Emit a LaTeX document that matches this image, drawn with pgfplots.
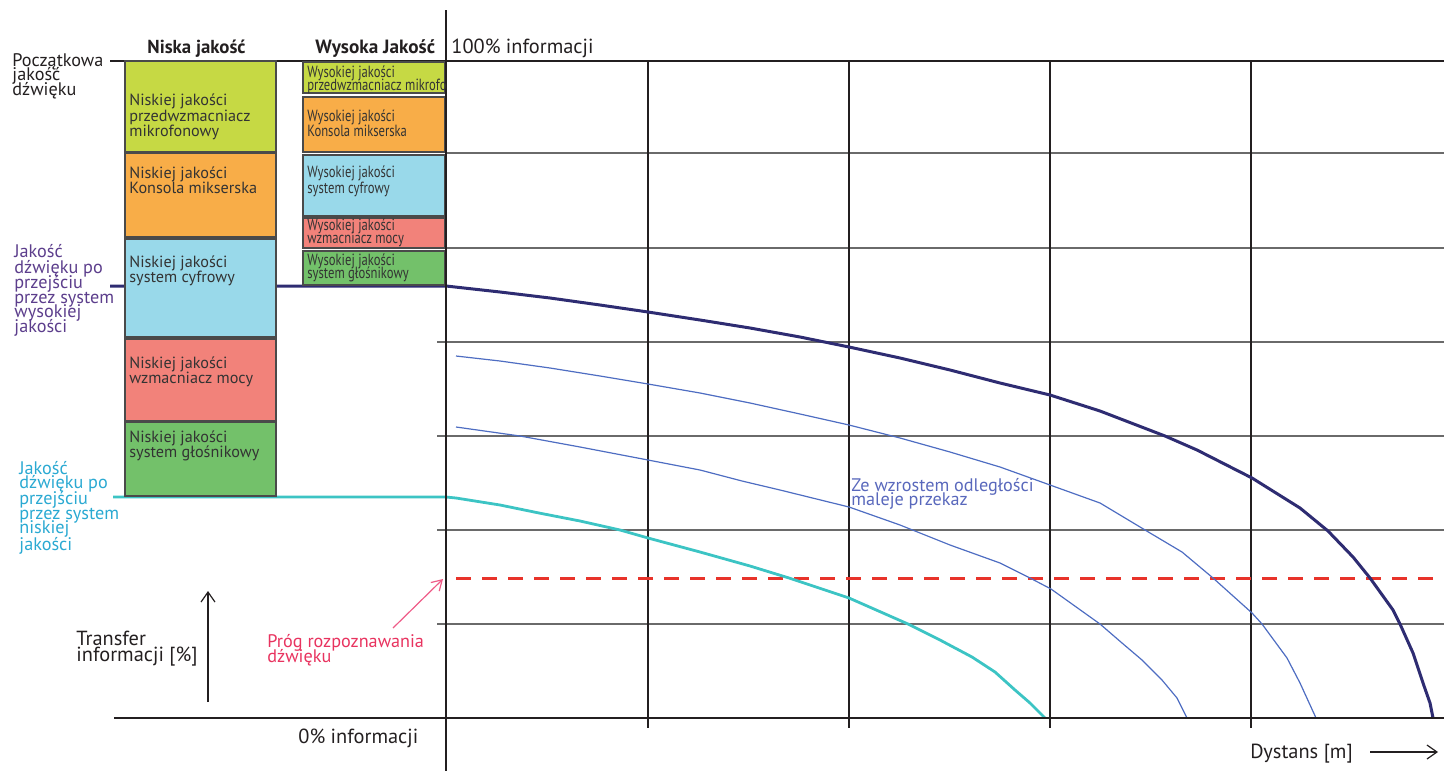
\documentclass[border=0pt]{standalone}
\usepackage{pgfplots}
\pgfplotsset{compat=1.18}
\usetikzlibrary{arrows.meta}
\usepackage{fontspec}
\setmainfont{PT Sans}
\newfontfamily\cond[FakeStretch=0.78]{PT Sans}
\definecolor{cyg}{HTML}{C6D944}
\definecolor{cor}{HTML}{F8AD48}
\definecolor{cbl}{HTML}{99D9EA}
\definecolor{csa}{HTML}{F2827A}
\definecolor{cgr}{HTML}{73C16A}
\definecolor{navy}{HTML}{2E2C72}
\definecolor{thinb}{HTML}{4E6DC2}
\definecolor{teal2}{HTML}{3CC4C4}
\definecolor{tealtxt}{HTML}{2AA9D2}
\definecolor{purp}{HTML}{5C3E8C}
\definecolor{bluetxt}{HTML}{5968BC}
\definecolor{pinkt}{HTML}{E8335F}
\definecolor{pinka}{HTML}{EE5C88}
\definecolor{redd}{HTML}{E8332A}
\definecolor{txt}{HTML}{231F20}
\definecolor{boxtxt}{HTML}{333333}
\definecolor{gridh}{HTML}{6A6A6A}
\definecolor{boxb}{HTML}{4A4A4A}
\newcommand\fs{\fontsize{9.1pt}{8pt}\selectfont}
\newcommand\fl{\fontsize{10.2pt}{9pt}\selectfont}
\newcommand\fb{\fontsize{8.1pt}{7pt}\selectfont}
\newcommand\fsc{\cond\fontsize{8.1pt}{7pt}\selectfont}
\newcommand\TX[4]{\node[anchor=base west,inner sep=0pt,text=#3,font=\fs] at (axis cs:#1,#2) {#4};}
\newcommand\LX[4]{\node[anchor=base west,inner sep=0pt,text=#3,font=\fl] at (axis cs:#1,#2) {#4};}
\newcommand\BX[3]{\node[anchor=base west,inner sep=0pt,text=boxtxt,font=\fb] at (axis cs:#1,#2) {#3};}
\newcommand\CX[3]{\node[anchor=base west,inner sep=0pt,text=boxtxt,font=\fsc] at (axis cs:#1,#2) {#3};}
\begin{document}
\begin{tikzpicture}
\begin{axis}[at={(0,0)},anchor=south west,width=722pt,height=385.5pt,scale only axis,
  xmin=0,xmax=1444,ymin=0,ymax=771,y dir=reverse,axis lines=none,clip=false]
% grid
\draw[gridh,line width=0.65pt] (axis cs:446,153) -- (axis cs:1444,153);
\draw[gridh,line width=0.65pt] (axis cs:446,248) -- (axis cs:1444,248);
\draw[gridh,line width=0.65pt] (axis cs:437,342) -- (axis cs:1444,342);
\draw[gridh,line width=0.65pt] (axis cs:437,436) -- (axis cs:1444,436);
\draw[gridh,line width=0.65pt] (axis cs:437,530) -- (axis cs:1444,530);
\draw[gridh,line width=0.65pt] (axis cs:437,624) -- (axis cs:1444,624);
\draw[txt,line width=0.65pt] (axis cs:648,61) -- (axis cs:648,728);
\draw[txt,line width=0.65pt] (axis cs:849,61) -- (axis cs:849,728);
\draw[txt,line width=0.65pt] (axis cs:1050,61) -- (axis cs:1050,728);
\draw[txt,line width=0.65pt] (axis cs:1251,61) -- (axis cs:1251,728);
\draw[txt,line width=0.7pt] (axis cs:110,61) -- (axis cs:1444,61);
% threshold
\addplot[redd,line width=1.5pt,dash pattern=on 7.5pt off 5.5pt] coordinates {(456,578) (1444,578)};
% curves
\addplot[navy,line width=1.5pt] coordinates {(110,286) (446,286) (500,292) (550,298) (600,305) (648,312) (700,320) (750,328) (800,337) (849,347) (900,358) (950,370) (1000,383) (1050,395) (1100,411) (1165,436) (1197,450) (1252,478) (1300,508) (1328,531) (1353,557) (1370,578) (1393,610) (1400,624) (1413,653) (1423,683) (1430,703) (1433,718)};
\addplot[thinb,line width=0.6pt] coordinates {(456,356) (500,361) (550,368) (600,376) (648,384) (700,393) (750,403) (800,414) (849,425) (900,438) (950,452) (1000,467) (1050,485) (1100,503) (1145,530) (1182,552) (1213,578) (1252,613) (1262,624) (1287,658) (1300,683) (1316,718)};
\addplot[thinb,line width=0.6pt] coordinates {(456,427) (520,436) (580,447) (648,460) (700,470) (742,481) (780,490) (849,507) (900,525) (950,545) (1000,563) (1030,578) (1051,589) (1100,624) (1122,643) (1142,660) (1162,680) (1177,698) (1187,718)};
\addplot[teal2,line width=1.4pt] coordinates {(113,497) (446,497) (456,498) (500,505) (539,513) (580,521) (620,530) (648,538) (700,552) (750,566) (789,578) (849,598) (908,624) (940,640) (972,657) (995,672) (1015,690) (1030,703) (1045,718)};
% boxes left
\addplot[draw=boxb,line width=0.7pt,fill=cyg] coordinates {(125,61) (276,61) (276,152) (125,152)} -- cycle;
\addplot[draw=boxb,line width=0.7pt,fill=cor] coordinates {(125,153) (276,153) (276,237) (125,237)} -- cycle;
\addplot[draw=boxb,line width=0.7pt,fill=cbl] coordinates {(125,239) (276,239) (276,337) (125,337)} -- cycle;
\addplot[draw=boxb,line width=0.7pt,fill=csa] coordinates {(125,339) (276,339) (276,421) (125,421)} -- cycle;
\addplot[draw=boxb,line width=0.7pt,fill=cgr] coordinates {(125,422) (276,422) (276,496) (125,496)} -- cycle;
% boxes right
\addplot[draw=boxb,line width=0.7pt,fill=cyg] coordinates {(303,62) (445,62) (445,93) (303,93)} -- cycle;
\addplot[draw=boxb,line width=0.7pt,fill=cor] coordinates {(303,97) (445,97) (445,152) (303,152)} -- cycle;
\addplot[draw=boxb,line width=0.7pt,fill=cbl] coordinates {(303,155) (445,155) (445,216) (303,216)} -- cycle;
\addplot[draw=boxb,line width=0.7pt,fill=csa] coordinates {(303,218) (445,218) (445,248) (303,248)} -- cycle;
\addplot[draw=boxb,line width=0.7pt,fill=cgr] coordinates {(303,251) (445,251) (445,285) (303,285)} -- cycle;
% main axes
\draw[txt,line width=0.9pt] (axis cs:446,10) -- (axis cs:446,771);
\draw[txt,line width=1.4pt] (axis cs:114,718) -- (axis cs:1444,718);
% arrows
\draw[txt,line width=0.6pt,-{Straight Barb[length=5pt,width=7pt]}] (axis cs:208,702) -- (axis cs:208,591);
\draw[txt,line width=0.6pt,-{Straight Barb[length=5pt,width=7pt]}] (axis cs:1370,752) -- (axis cs:1438,752);
\draw[pinka,line width=0.6pt,-{Straight Barb[length=5pt,width=6pt]}] (axis cs:393,628) -- (axis cs:443,579);
% headers
\node[anchor=base west,inner sep=0pt,text=txt,font=\fontsize{9.4pt}{9pt}\selectfont\bfseries] at (axis cs:147,54) {Niska jakość};
\node[anchor=base west,inner sep=0pt,text=txt,font=\fontsize{9.6pt}{9pt}\selectfont\bfseries] at (axis cs:315,54) {Wysoka Jakość};
\LX{451}{54}{txt}{100\% informacji}
\LX{298}{743}{txt}{0\% informacji}
\LX{1250}{758}{txt}{Dystans [m]}
\LX{76}{645}{txt}{Transfer}
\LX{76}{661}{txt}{informacji [\%]}
\TX{12}{66}{txt}{Początkowa}
\TX{12}{80}{txt}{jakość}
\TX{12}{95}{txt}{dźwięku}
\TX{14}{257}{purp}{Jakość}
\TX{14}{273}{purp}{dźwięku po}
\TX{14}{288}{purp}{przejściu}
\TX{14}{303}{purp}{przez system}
\TX{14}{317}{purp}{wysokiej}
\TX{14}{332}{purp}{jakości}
\TX{19}{474}{tealtxt}{Jakość}
\TX{19}{488}{tealtxt}{dźwięku po}
\TX{19}{504}{tealtxt}{przejściu}
\TX{19}{519}{tealtxt}{przez system}
\TX{19}{533}{tealtxt}{niskiej}
\TX{19}{550}{tealtxt}{jakości}
\TX{267}{647}{pinkt}{Próg rozpoznawania}
\TX{267}{662}{pinkt}{dźwięku}
\TX{851}{491}{bluetxt}{Ze wzrostem odległości}
\TX{851}{505}{bluetxt}{maleje przekaz}
% left box text
\BX{129}{105}{Niskiej jakości}
\BX{129}{121}{przedwzmacniacz}
\BX{129}{136}{mikrofonowy}
\BX{129}{178}{Niskiej jakości}
\BX{129}{193}{Konsola mikserska}
\BX{129}{267}{Niskiej jakości}
\BX{129}{282}{system cyfrowy}
\BX{129}{368}{Niskiej jakości}
\BX{129}{383}{wzmacniacz mocy}
\BX{129}{442}{Niskiej jakości}
\BX{129}{457}{system głośnikowy}
% right box text
\begin{scope}
\clip (axis cs:303,62) rectangle (axis cs:445,93);
\CX{307}{77}{Wysokiej jakości}
\CX{307}{90}{przedwzmacniacz mikrofonowy}
\end{scope}
\CX{307}{121}{Wysokiej jakości}
\CX{307}{136}{Konsola mikserska}
\CX{307}{177}{Wysokiej jakości}
\CX{307}{193}{system cyfrowy}
\CX{307}{230}{Wysokiej jakości}
\CX{307}{243}{wzmacniacz mocy}
\CX{307}{265}{Wysokiej jakości}
\CX{307}{278}{system głośnikowy}
\end{axis}
\pgfresetboundingbox
\path (0,0) rectangle (722pt,385.5pt);
\end{tikzpicture}
\end{document}
